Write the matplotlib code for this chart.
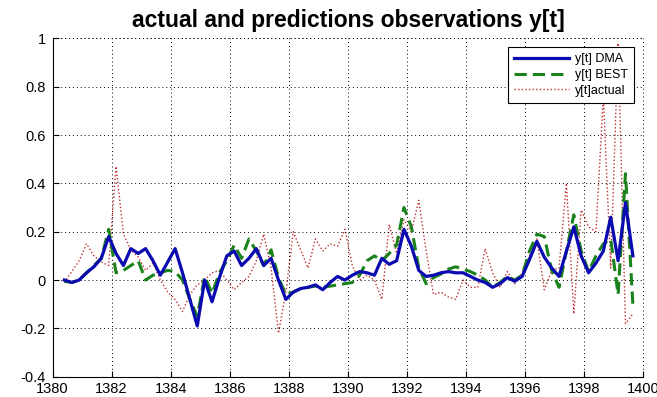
import numpy as np
import matplotlib
matplotlib.use("Agg")
import matplotlib.pyplot as plt

# quarterly observations
t_start = 1380.4
t_step = 0.25

y_dma = [0.00, -0.01, 0.00, 0.03, 0.055, 0.09, 0.18, 0.11, 0.06, 0.13,
         0.11, 0.13, 0.08, 0.02, 0.075, 0.13, 0.03, -0.08, -0.19, 0.00,
         -0.09, 0.01, 0.10, 0.12, 0.06, 0.09, 0.13, 0.06, 0.09, 0.00,
         -0.08, -0.05, -0.035, -0.03, -0.02, -0.04, -0.01, 0.015, 0.00, 0.02,
         0.035, 0.03, 0.02, 0.09, 0.065, 0.08, 0.21, 0.14, 0.04, 0.015,
         0.02, 0.03, 0.035, 0.03, 0.03, 0.015, 0.00, -0.01, -0.03, -0.015,
         0.01, -0.005, 0.015, 0.085, 0.16, 0.095, 0.05, 0.015, 0.12, 0.22,
         0.10, 0.03, 0.07, 0.12, 0.26, 0.08, 0.32, 0.10]

y_best = [-0.005, -0.01, 0.00, 0.03, 0.06, 0.09, 0.21, 0.03, 0.04, 0.06,
          0.08, 0.00, 0.02, 0.03, 0.04, 0.035, 0.00, -0.08, -0.15, 0.015,
          -0.055, 0.03, 0.08, 0.145, 0.09, 0.17, 0.12, 0.06, 0.125, 0.01,
          -0.06, -0.05, -0.035, -0.03, -0.025, -0.03, -0.025, -0.02, -0.015, -0.01,
          0.02, 0.08, 0.10, 0.08, 0.11, 0.145, 0.30, 0.22, 0.05, -0.015,
          0.01, 0.025, 0.045, 0.055, 0.045, 0.035, 0.02, 0.00, -0.03, -0.01,
          0.015, 0.00, 0.02, 0.12, 0.19, 0.18, 0.04, -0.03, 0.12, 0.27,
          0.12, 0.035, 0.10, 0.15, 0.17, -0.06, 0.44, -0.10]

y_actual = [-0.01, 0.035, 0.08, 0.15, 0.10, 0.075, 0.06, 0.47, 0.19, 0.125,
            0.095, 0.04, 0.07, 0.00, -0.05, -0.08, -0.13, -0.06, -0.02, 0.00,
            0.03, 0.04, 0.00, -0.04, -0.01, 0.015, 0.08, 0.19, 0.05, -0.22,
            -0.05, 0.20, 0.125, 0.05, 0.17, 0.12, 0.15, 0.14, 0.21, 0.06,
            0.00, 0.02, 0.00, -0.08, 0.23, 0.11, 0.25, 0.20, 0.33, 0.12,
            -0.06, -0.05, -0.07, -0.08, 0.00, -0.03, -0.03, 0.13, 0.03, -0.03,
            0.035, -0.015, 0.03, 0.10, 0.17, -0.04, 0.04, 0.05, 0.40, -0.14,
            0.29, 0.22, 0.20, 0.76, 0.05, 0.98, -0.18, -0.14]

x_ticks = list(range(1380, 1401, 2))
y_ticks = [-0.4, -0.2, 0, 0.2, 0.4, 0.6, 0.8, 1]
y_tick_labels = ["-0.4", "-0.2", "0", "0.2", "0.4", "0.6", "0.8", "1"]

t = t_start + t_step * np.arange(len(y_dma))

plt.rcParams["font.family"] = ["Liberation Sans", "DejaVu Sans"]

fig = plt.figure(figsize=(6.57, 3.97), dpi=100, facecolor="white")
ax = fig.add_axes([0.080, 0.051, 0.899, 0.8525])

ax.plot(t, y_dma, color="#0a0ab0", lw=2.3, ls="-", label="y[t] DMA", zorder=3)
ax.plot(t, y_best, color="#1a821a", lw=2.2, ls=(0, (4, 2)), label="y[t] BEST", zorder=2)
ax.plot(t, y_actual, color="#c03030", lw=1.0, ls=(0, (1, 1.6)), label="y[t]actual", zorder=1)

ax.set_xlim(1380, 1400)
ax.set_ylim(-0.4, 1)
ax.set_xticks(x_ticks)
ax.set_yticks(y_ticks)
ax.set_yticklabels(y_tick_labels)
ax.tick_params(direction="in", length=4, width=0.8, top=False, right=False)
ax.tick_params(axis="x", labelsize=10.5, pad=4)
ax.tick_params(axis="y", labelsize=10.5, pad=5)

ax.grid(True, color="black", ls=(0, (1, 3)), lw=0.7)
for side in ("top", "right"):
    ax.spines[side].set_visible(False)
for side in ("left", "bottom"):
    ax.spines[side].set_linewidth(0.8)

# dotted box edges on top and right, like the grid
ax.axhline(1, color="black", ls=(0, (1, 3)), lw=0.7, clip_on=False)
ax.axvline(1400, color="black", ls=(0, (1, 3)), lw=0.7, clip_on=False)

ax.set_title("actual and predictions observations y[t]", fontsize=16.5,
             fontweight="bold", pad=8)

leg = ax.legend(loc="upper right", fontsize=9, frameon=True, fancybox=False,
                edgecolor="black", framealpha=1, borderaxespad=0.7,
                handlelength=4.4, handletextpad=0.5, labelspacing=0.3,
                borderpad=0.5)
leg.get_frame().set_linewidth(0.8)

fig.savefig("out.png", dpi=100, facecolor="white")
